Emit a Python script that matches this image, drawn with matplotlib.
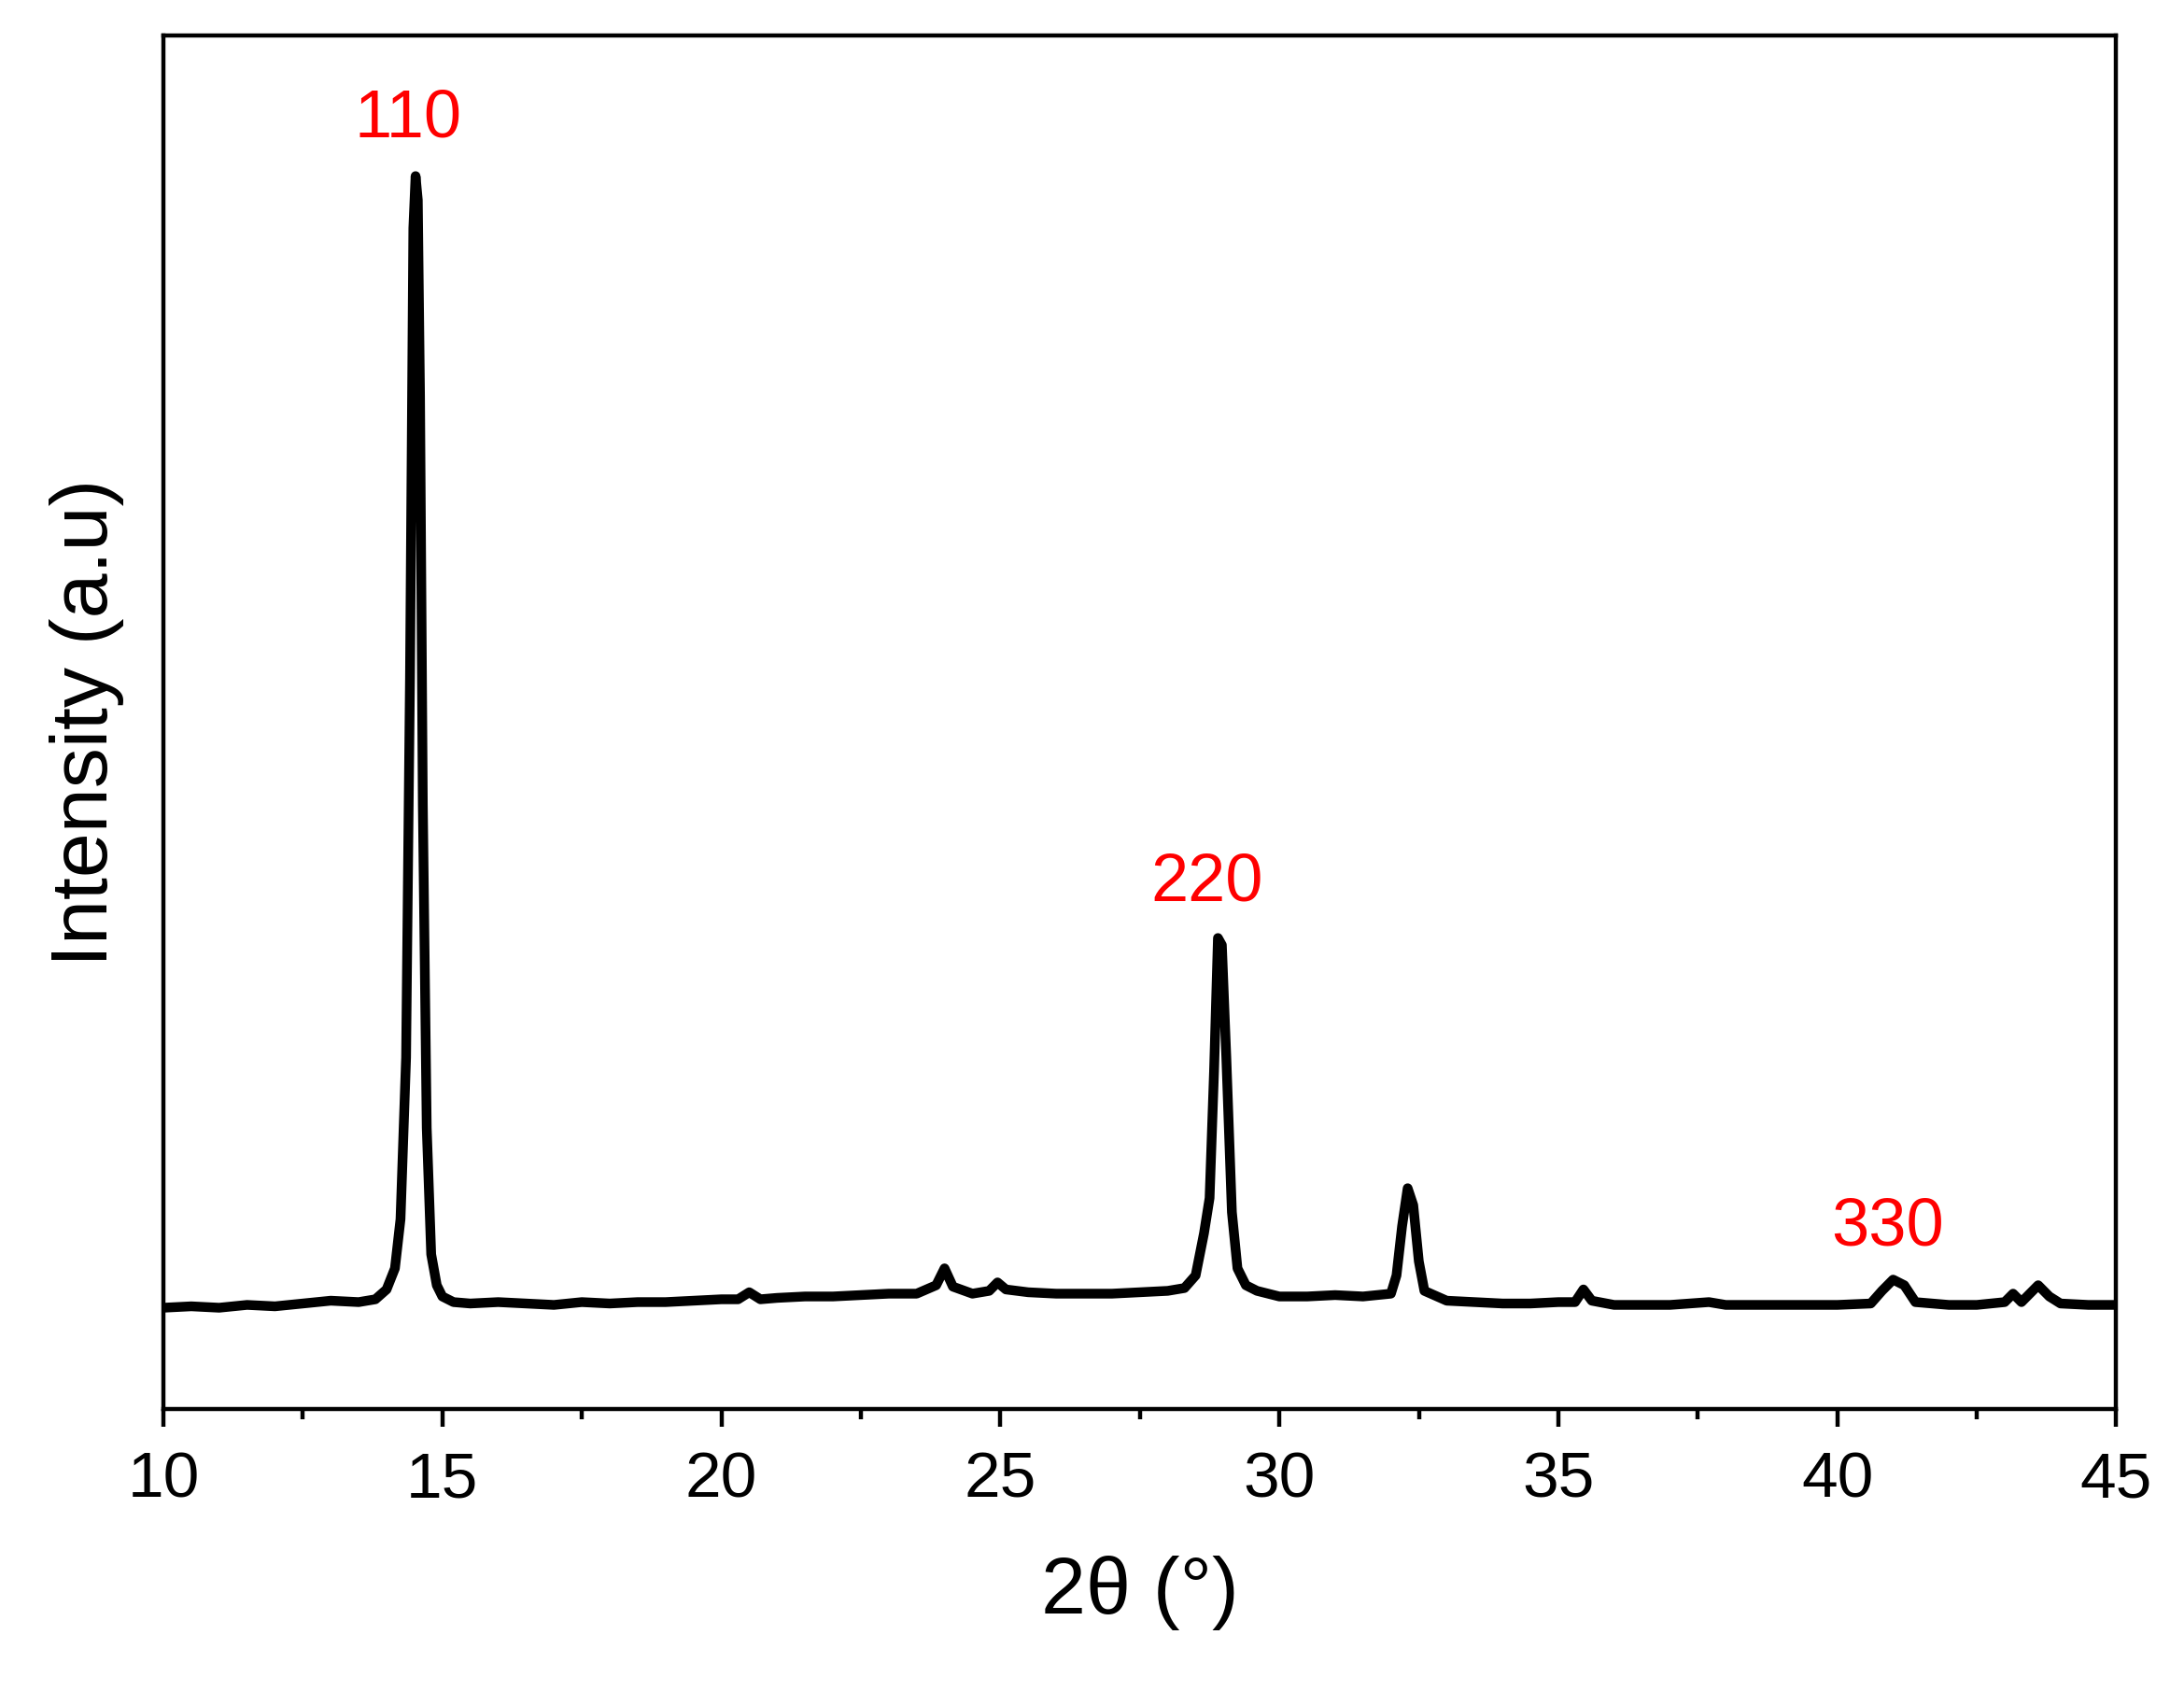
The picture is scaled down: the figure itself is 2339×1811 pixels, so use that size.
import matplotlib
matplotlib.use("Agg")
import matplotlib.pyplot as plt
from matplotlib.ticker import MultipleLocator

plt.rcParams['font.family'] = ['Liberation Sans', 'DejaVu Sans']

# XRD pattern (arbitrary intensity units)
two_theta = [10, 10.5, 11, 11.5, 12, 12.5, 13, 13.5, 13.8, 14.0, 14.15, 14.25, 14.35, 14.42, 14.48, 14.52, 14.56,
             14.6, 14.65, 14.72, 14.8, 14.9, 15.0, 15.2, 15.5, 16, 16.5, 17, 17.5, 18, 18.5, 19, 19.5,
             20, 20.3, 20.5, 20.7, 21, 21.5, 22, 22.5, 23, 23.5, 23.85, 24.0, 24.15, 24.5, 24.8,
             24.95, 25.1, 25.5, 26, 26.5, 27, 27.5, 28, 28.3, 28.5, 28.65, 28.75, 28.83, 28.9, 28.97, 29.05,
             29.15, 29.25, 29.4, 29.6, 30, 30.5, 31, 31.5, 32, 32.1, 32.2, 32.3, 32.4, 32.5, 32.6, 33,
             33.5, 34, 34.5, 35, 35.3, 35.45, 35.6, 36, 37, 37.7, 38, 39, 40, 40.6, 40.8, 41.0,
             41.2, 41.4, 42, 42.5, 43, 43.15, 43.3, 43.6, 43.8, 44, 44.5, 45]
intensity = [72, 73, 72, 74, 73, 75, 77, 76, 78, 85, 100, 135, 250, 520, 840, 877, 860,
             720, 430, 200, 110, 88, 80, 76, 75, 76, 75, 74, 76, 75, 76, 76, 77,
             78, 78, 83, 78, 79, 80, 80, 81, 82, 82, 88, 100, 87, 82, 84,
             90, 85, 83, 82, 82, 82, 83, 84, 86, 95, 125, 150, 240, 335, 330, 250,
             140, 100, 88, 84, 80, 80, 81, 80, 82, 95, 130, 157, 145, 105, 84, 77,
             76, 75, 75, 76, 76, 85, 77, 74, 74, 76, 74, 74, 74, 75, 84, 92,
             88, 76, 74, 74, 76, 82, 76, 88, 80, 75, 74, 74]

peak_labels = ['110', '220', '330']
peak_x = [14.38, 28.7, 40.9]
peak_y = [917, 374, 129]

fig = plt.figure(figsize=(23.39, 18.11), dpi=100)
ax = fig.add_axes([0.0748, 0.1668, 0.8942, 0.8122])

ax.plot(two_theta, intensity, color='black', lw=7.5, solid_joinstyle='round')
for lab, x, y in zip(peak_labels, peak_x, peak_y):
    ax.text(x, y, lab, color='red', fontsize=52, ha='center', va='center')

ax.set_xlim(10, 45)
ax.set_ylim(0, 977)
ax.set_yticks([])
ax.xaxis.set_major_locator(MultipleLocator(5))
ax.xaxis.set_minor_locator(MultipleLocator(2.5))
ax.tick_params(axis='x', which='major', direction='out', length=14, width=3.2, labelsize=50, pad=18)
ax.tick_params(axis='x', which='minor', direction='out', length=8, width=3.2)
for s in ax.spines.values():
    s.set_linewidth(3.2)

ax.set_xlabel('2θ (°)', fontsize=62, labelpad=35)
ax.set_ylabel('Intensity (a.u)', fontsize=62, labelpad=30)

fig.savefig('out.png', dpi=100)
